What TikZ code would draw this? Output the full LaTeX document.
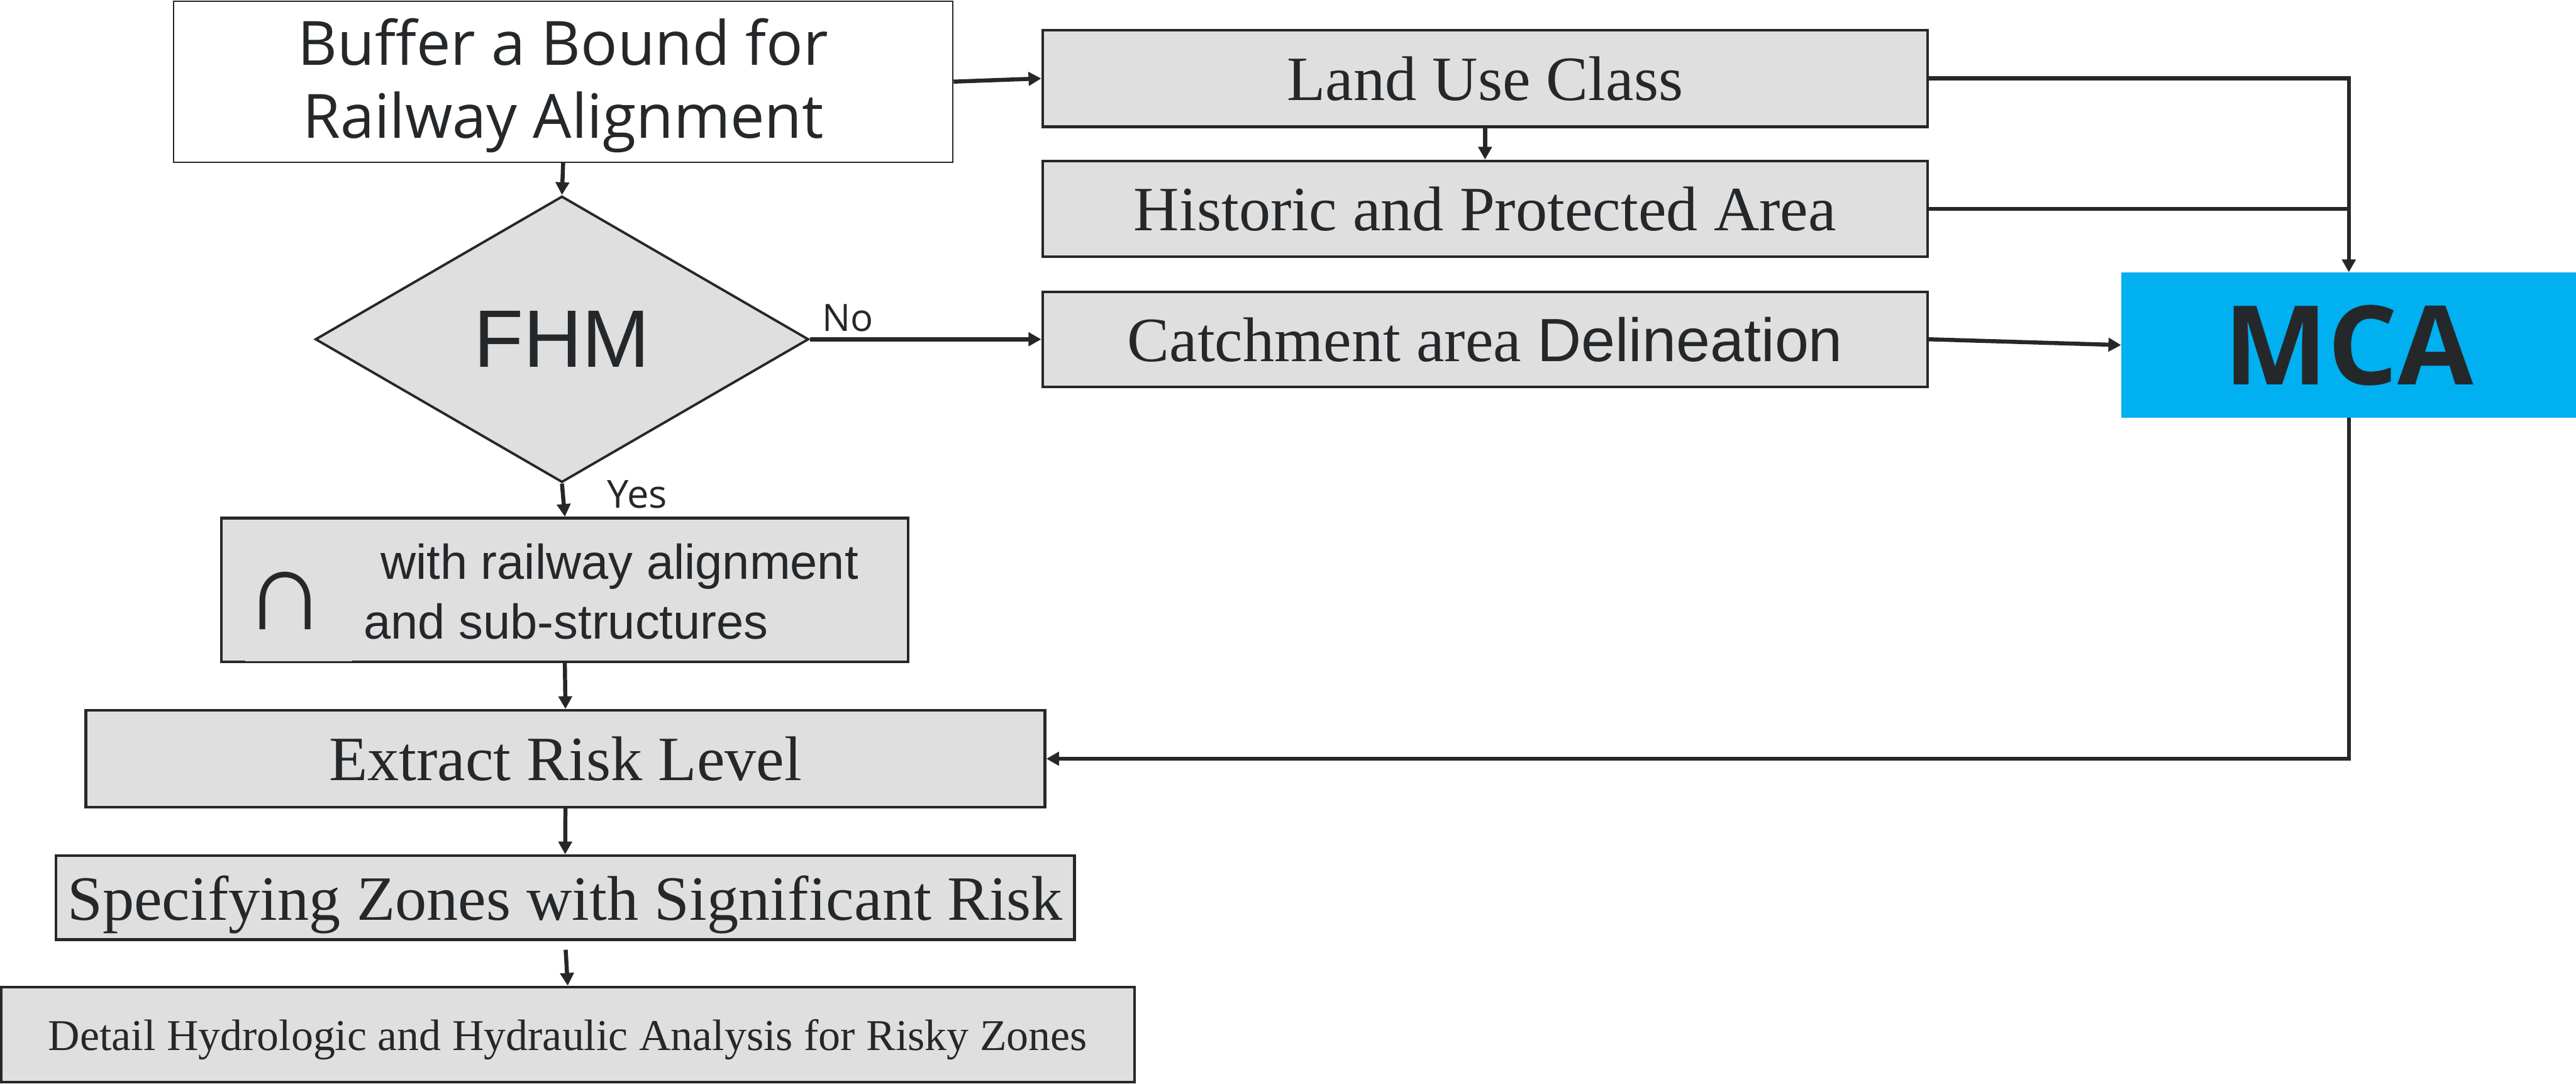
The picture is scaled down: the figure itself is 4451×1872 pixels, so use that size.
\documentclass[tikz,border=0pt]{standalone}
\usepackage{fontspec}
\setmainfont{Liberation Serif}
\newfontfamily\osans{Open Sans}
\newfontfamily\lsans{Liberation Sans}
\usetikzlibrary{shapes.geometric,arrows.meta}
\definecolor{ink}{HTML}{25282B}
\definecolor{boxgray}{HTML}{DFDFDF}
\definecolor{mcablue}{HTML}{00B0F0}
\begin{document}
\begin{tikzpicture}[x=0.01cm,y=-0.01cm,
  gbox/.style={draw=ink, fill=boxgray, line width=1.35pt, inner sep=0pt, text depth=0pt, text=ink, font=\fontsize{31}{36}\selectfont},
  conn/.style={draw=ink, line width=2pt},
  arr/.style={conn, -{Triangle[length=0.22cm,width=0.23cm]}},
  lbl/.style={inner sep=0pt, text=ink},
]
\useasboundingbox (0,0) rectangle (4451,1872);

% boxes
\node[draw=ink, fill=white, line width=0.75pt, minimum width=13.46cm, minimum height=2.78cm, inner sep=0pt] (buf) at (973,141) {};
\node[lbl, anchor=base, font=\osans\fontsize{30}{36}\selectfont] (buft1) at (973,112) {Buffer a Bound for};
\node[lbl, anchor=base, font=\osans\fontsize{30}{36}\selectfont] (buft2) at (973,239) {Railway Alignment};

\node[gbox, minimum width=15.28cm, minimum height=1.67cm] (land) at (2566,135.5) {Land Use Class};
\node[gbox, minimum width=15.28cm, minimum height=1.65cm] (hist) at (2566,360.5) {Historic and Protected Area};
\node[gbox, minimum width=15.28cm, minimum height=1.64cm] (catch) at (2566,586) {Catchment area {\lsans\fontsize{30}{36}\selectfont Delineation}};

\node[fill=mcablue, minimum width=7.85cm, minimum height=2.50cm, inner sep=0pt, text depth=0pt, text=ink, font=\osans\bfseries\fontsize{54}{60}\selectfont] (mca) at (4058.5,596) {MCA};

\node[diamond, draw=ink, fill=boxgray, line width=1.2pt, minimum width=8.52cm, minimum height=4.94cm, inner sep=0pt, text depth=0pt, text=ink, font=\lsans\fontsize{40}{48}\selectfont] (fhm) at (971,586) {FHM};

\node[gbox, minimum width=11.86cm, minimum height=2.48cm] (inter) at (976,1019) {};
\draw[boxgray, line width=0.9pt] (424,1141) -- (608,1141);
\node[lbl, anchor=base, font=\lsans\fontsize{56}{64}\selectfont] (capsym) at (493,1087) {∩};
\node[lbl, anchor=base west, font=\lsans\fontsize{24}{29}\selectfont] (intert1) at (657,1000) {with railway alignment};
\node[lbl, anchor=base west, font=\lsans\fontsize{24}{29}\selectfont] (intert2) at (628,1103) {and sub-structures};

\node[gbox, minimum width=16.56cm, minimum height=1.67cm] (ext) at (977,1310.5) {Extract Risk Level};
\node[gbox, minimum width=17.59cm, minimum height=1.45cm] (spec) at (976.5,1550.5) {Specifying Zones with Significant Risk};
\node[gbox, minimum width=19.58cm, minimum height=1.64cm, font=\fontsize{21.6}{26}\selectfont] (detail) at (981,1787) {Detail Hydrologic and Hydraulic Analysis for Risky Zones};

% labels
\node[lbl, anchor=base west, font=\osans\fontsize{18.5}{22}\selectfont] (nolbl) at (1420,572) {No};
\node[lbl, anchor=base west, font=\osans\fontsize{19}{23}\selectfont] (yeslbl) at (1049,878) {Yes};

% connectors
\draw[arr] (buf.east) -- (land.west);
\draw[arr] (land.south) -- (hist.north);
\draw[arr] (land.east) -| (mca.north);
\draw[conn] (hist.east) -- (hist.east -| mca.north);
\draw[arr] (catch.east) -- (mca.west);
\draw[arr] (buf.south) -- (fhm.north);
\draw[arr] (fhm.east) -- (catch.west);
\draw[arr] (fhm.south) -- (inter.north);
\draw[arr] (inter.south) -- (ext.north);
\draw[arr] (mca.south) |- (ext.east);
\draw[arr] (ext.south) -- (spec.north);
\draw[arr, shorten <=0.15cm] (spec.south) -- (detail.north);
\end{tikzpicture}
\end{document}
